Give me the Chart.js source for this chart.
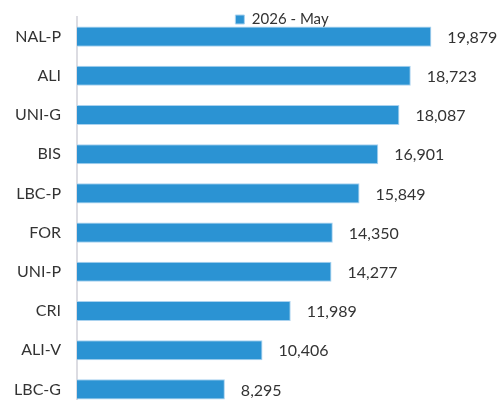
<!DOCTYPE html>
<html>
<head>
<meta charset="utf-8">
<title>2026 - May</title>
<script src="https://cdn.jsdelivr.net/npm/chart.js@4.4.1/dist/chart.umd.min.js"></script>
<style>
    html, body { margin: 0; padding: 0; background: #fff; overflow: hidden; }
    canvas { display: block; }
</style>
</head>
<body>
<canvas id="chart" width="500" height="410"></canvas>
<script>
    // Datos
    const categories = ['NAL-P', 'ALI', 'UNI-G', 'BIS', 'LBC-P', 'FOR', 'UNI-P', 'CRI', 'ALI-V', 'LBC-G'];
    const seriesLabel = '2026 - May';
    const seriesValues = [19879, 18723, 18087, 16901, 15849, 14350, 14277, 11989, 10406, 8295];

    const textColor = '#333333';
    const fontFamily = 'Lato, "Open Sans", sans-serif';

    /**
     * Value labels at the end of each bar
     */
    const valueLabels = {
        id: 'valueLabels',
        afterDatasetsDraw(chart) {
            const ctx = chart.ctx;
            const meta = chart.getDatasetMeta(0);
            ctx.save();
            ctx.font = '16px ' + fontFamily;
            ctx.fillStyle = textColor;
            ctx.textAlign = 'left';
            ctx.textBaseline = 'middle';
            meta.data.forEach((bar, i) => {
                const value = chart.data.datasets[0].data[i];
                ctx.fillText(value.toLocaleString('en-US'), bar.x + 16, bar.y + 1);
            });
            ctx.restore();
        }
    };

    /**
     * Put the legend over the top of the plot area
     */
    const legendPlacement = {
        id: 'legendPlacement',
        afterLayout(chart) {
            const legend = chart.legend;
            if (!legend) return;
            const area = chart.chartArea;
            legend.left = area.left;
            legend.right = area.right;
            legend.top = 12;
            legend.bottom = 27;
        }
    };

    const ctx = document.getElementById('chart').getContext('2d');
    new Chart(ctx, {
        type: 'bar',
        data: {
            labels: categories,
            datasets: [{
                label: seriesLabel,
                data: seriesValues,
                backgroundColor: '#2b93d3',
                borderColor: '#a9d2ef',
                borderWidth: 1,
                barPercentage: 0.64,
                categoryPercentage: 0.8
            }]
        },
        options: {
            indexAxis: 'y',
            responsive: false,
            animation: false,
            layout: {
                padding: { top: 16, right: 13, bottom: 1, left: 0 }
            },
            plugins: {
                legend: {
                    display: true,
                    position: 'top',
                    maxHeight: 1,
                    labels: {
                        boxWidth: 9,
                        boxHeight: 9,
                        padding: 0,
                        color: textColor,
                        font: { family: fontFamily, size: 15 }
                    }
                },
                tooltip: { enabled: false }
            },
            scales: {
                x: {
                    display: false,
                    min: 0,
                    max: 23000
                },
                y: {
                    afterFit: function(scale) {
                        scale.width = 77;
                        scale.paddingTop = 0;
                        scale.paddingBottom = 0;
                    },
                    grid: { display: false, drawTicks: false },
                    border: { display: true, color: '#dcdce2', width: 2 },
                    ticks: {
                        color: textColor,
                        padding: 16,
                        font: { family: fontFamily, size: 16 }
                    }
                }
            }
        },
        plugins: [valueLabels, legendPlacement]
    });
</script>
</body>
</html>
